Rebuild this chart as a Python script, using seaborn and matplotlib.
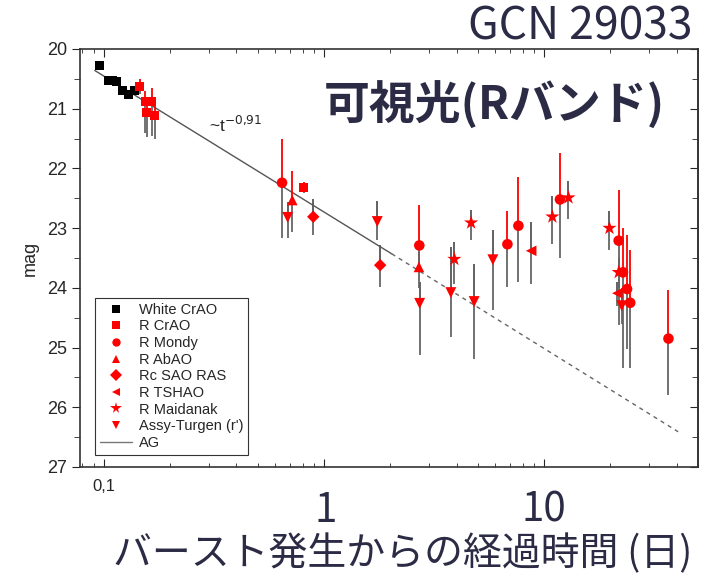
import numpy as np
import pandas as pd
import matplotlib
matplotlib.use('Agg')
import matplotlib.pyplot as plt
import matplotlib.transforms as mtransforms
from matplotlib.lines import Line2D
from matplotlib.ticker import LogLocator, NullFormatter, FixedLocator, MultipleLocator
import seaborn as sns

white_crao_t = [0.096, 0.105, 0.110, 0.114, 0.122, 0.130, 0.138]
white_crao_mag = [20.28, 20.52, 20.53, 20.55, 20.69, 20.77, 20.69]

r_crao_t = [0.146, 0.154, 0.165, 0.157, 0.170, 0.811]
r_crao_mag = [20.63, 20.88, 20.88, 21.07, 21.12, 22.32]
r_crao_up = [20.50, 20.70, 20.65, 20.95, 20.95, 22.22]
r_crao_low = [20.75, 21.40, 21.45, 21.48, 21.50, 22.42]

r_mondy_t = [0.645, 2.71, 6.81, 7.64, 11.8, 21.8, 22.8, 23.8, 24.6, 36.7]
r_mondy_mag = [22.24, 23.29, 23.27, 22.96, 22.52, 23.21, 23.74, 24.02, 24.25, 24.85]
r_mondy_up = [21.50, 22.61, 22.72, 22.15, 21.75, 22.36, 22.99, 23.12, 23.36, 24.04]
r_mondy_low = [23.17, 23.60, 23.98, 23.91, 23.50, 24.62, 25.35, 25.03, 25.35, 25.80]

r_abao_t = [0.718, 2.70]
r_abao_mag = [22.53, 23.65]
r_abao_up = [22.05, 23.40]
r_abao_low = [23.06, 24.00]

rc_sao_t = [0.894, 1.80]
rc_sao_mag = [22.81, 23.62]
rc_sao_up = [22.51, 23.28]
rc_sao_low = [23.12, 23.98]

r_tshao_t = [8.73, 21.5]
r_tshao_mag = [23.38, 24.09]
r_tshao_up = [22.89, 23.90]
r_tshao_low = [23.94, 24.30]

r_maidanak_t = [3.91, 4.66, 10.9, 12.9, 19.8, 21.8]
r_maidanak_mag = [23.52, 22.91, 22.81, 22.49, 23.00, 23.74]
r_maidanak_up = [23.23, 22.70, 22.46, 22.21, 22.72, 23.50]
r_maidanak_low = [23.93, 23.20, 23.27, 22.85, 23.37, 24.00]

assy_t = [0.684, 1.746, 2.72, 3.77, 4.81, 5.85, 22.5]
assy_mag = [22.82, 22.89, 24.26, 24.08, 24.23, 23.53, 24.30]
assy_up = [22.56, 22.55, 23.90, 23.31, 23.60, 23.03, 24.00]
assy_low = [23.17, 23.20, 25.13, 24.82, 25.20, 24.37, 24.60]

# afterglow power law ~t^-0.91 (solid part, then dashed extrapolation)
ag_solid_t = [0.091, 2.03]
ag_solid_mag = [20.36, 23.43]
ag_dash_t = [2.03, 40.6]
ag_dash_mag = [23.43, 26.41]

obs_names = ['White CrAO', 'R CrAO', 'R Mondy', 'R AbAO', 'Rc SAO RAS',
             'R TSHAO', 'R Maidanak', "Assy-Turgen (r')"]

series = [
    (white_crao_t, white_crao_mag, None, None),
    (r_crao_t, r_crao_mag, r_crao_up, r_crao_low),
    (r_mondy_t, r_mondy_mag, r_mondy_up, r_mondy_low),
    (r_abao_t, r_abao_mag, r_abao_up, r_abao_low),
    (rc_sao_t, rc_sao_mag, rc_sao_up, rc_sao_low),
    (r_tshao_t, r_tshao_mag, r_tshao_up, r_tshao_low),
    (r_maidanak_t, r_maidanak_mag, r_maidanak_up, r_maidanak_low),
    (assy_t, assy_mag, assy_up, assy_low),
]

rows = []
for name, (t, m, up, low) in zip(obs_names, series):
    for i in range(len(t)):
        rows.append({'t': t[i], 'mag': m[i], 'obs': name,
                     'up': up[i] if up else np.nan,
                     'low': low[i] if low else np.nan})
df = pd.DataFrame(rows)

marker_map = {'White CrAO': 's', 'R CrAO': 's', 'R Mondy': 'o', 'R AbAO': '^',
              'Rc SAO RAS': 'D', 'R TSHAO': '<', 'R Maidanak': '*',
              "Assy-Turgen (r')": 'v'}
color_map = {n: 'red' for n in obs_names}
color_map['White CrAO'] = 'black'
size_map = {'White CrAO': 42, 'R CrAO': 42, 'R Mondy': 58, 'R AbAO': 58,
            'Rc SAO RAS': 40, 'R TSHAO': 58, 'R Maidanak': 115,
            "Assy-Turgen (r')": 62}
red_top = ['R CrAO', 'R Mondy', 'R AbAO']

sns.set_style('ticks')
plt.rcParams['font.family'] = ['Liberation Sans', 'Noto Sans CJK JP']
navy = '#2b2b45'

fig = plt.figure(figsize=(7.12, 5.83), dpi=100)
ax = fig.add_axes([0.1124, 0.199, 0.868, 0.717])

# error bars: upper half red for some telescopes, lower half grey
err = df.dropna(subset=['up'])
top_col = ['red' if o in red_top else '#555555' for o in err['obs']]
ax.vlines(err['t'], err['up'], err['mag'], colors=top_col, lw=1.3, zorder=2)
ax.vlines(err['t'], err['mag'], err['low'], colors='#666666', lw=1.3, zorder=2)

sns.lineplot(x=ag_solid_t, y=ag_solid_mag, color='#555555', lw=1.0, ax=ax, zorder=1)
sns.lineplot(x=ag_dash_t, y=ag_dash_mag, color='#666666', lw=1.0, ax=ax, zorder=1,
             linestyle=(0, (3, 3)))

sns.scatterplot(data=df, x='t', y='mag', hue='obs', style='obs', size='obs',
                hue_order=obs_names, style_order=obs_names, size_order=obs_names,
                palette=color_map, markers=marker_map, sizes=size_map,
                linewidth=0, legend=False, ax=ax, zorder=3)

ax.set_xscale('log')
ax.set_xlim(0.078, 50)
ax.set_ylim(27, 20)
ax.xaxis.set_major_locator(FixedLocator([0.1, 1, 10]))
ax.set_xticklabels(['0,1', '', ''], fontsize=12)
ax.xaxis.set_minor_locator(LogLocator(base=10, subs=np.arange(2, 10)))
ax.xaxis.set_minor_formatter(NullFormatter())
ax.yaxis.set_major_locator(MultipleLocator(1))
ax.yaxis.set_minor_locator(MultipleLocator(0.5))
ax.tick_params(axis='y', which='both', labelsize=13, direction='out', left=True, right=False)
ax.tick_params(axis='y', which='major', length=6)
ax.tick_params(axis='y', which='minor', length=4)
ax.tick_params(axis='x', which='both', direction='in', top=True, bottom=True)
ax.tick_params(axis='x', which='major', length=6, pad=9)
ax.tick_params(axis='x', which='minor', length=3)
ax.set_xlabel('')
ax.set_ylabel('mag', fontsize=13, labelpad=6)
for s in ax.spines.values():
    s.set_linewidth(1.2)
    s.set_color('#333333')

# right axis ticks pointing inside
sec = ax.secondary_yaxis('right')
sec.yaxis.set_major_locator(MultipleLocator(1))
sec.yaxis.set_minor_locator(MultipleLocator(0.5))
sec.tick_params(which='both', direction='in', labelright=False)
sec.tick_params(which='major', length=6)
sec.tick_params(which='minor', length=4)
sec.spines['right'].set_linewidth(1.2)
sec.spines['right'].set_color('#333333')

ax.text(0.30, 21.28, r'~t$^{-0{,}91}$', fontsize=12.5, ha='left', va='center')

handles = []
for n in obs_names:
    handles.append(Line2D([], [], ls='none', marker=marker_map[n], color=color_map[n],
                          markersize=8.5 if n == 'R Maidanak' else 6, markeredgewidth=0))
handles.append(Line2D([], [], color='#777777', lw=1.0))
leg = ax.legend(handles, obs_names + ['AG'], loc='lower left', fontsize=10.5,
                frameon=True, fancybox=False, framealpha=1, edgecolor='#333333',
                handlelength=2.2, handletextpad=0.45, labelspacing=0.18,
                borderpad=0.35, borderaxespad=0, bbox_to_anchor=(0.024, 0.029))
leg.get_frame().set_linewidth(0.8)

# slide overlay texts
tr = mtransforms.blended_transform_factory(ax.transData, fig.transFigure)
ax.text(1.02, 0.125, '1', transform=tr, fontsize=29, color=navy, ha='center', va='center',
        family=['Noto Sans CJK JP'])
ax.text(10, 0.125, '10', transform=tr, fontsize=29, color=navy, ha='center', va='center',
        family=['Noto Sans CJK JP'])
fig.text(0.566, 0.05, 'バースト発生からの経過時間 (日)', fontsize=28, color=navy,
         ha='center', va='center', family=['Noto Sans CJK JP'])
fig.text(0.973, 0.955, 'GCN 29033', fontsize=32, color=navy, ha='right', va='center',
         family=['Noto Sans CJK JP'])
fig.text(0.934, 0.818, '可視光(Rバンド)', fontsize=33, color=navy, ha='right', va='center',
         fontweight='bold', family=['Noto Sans CJK JP'])

fig.savefig('out.png', dpi=100)
